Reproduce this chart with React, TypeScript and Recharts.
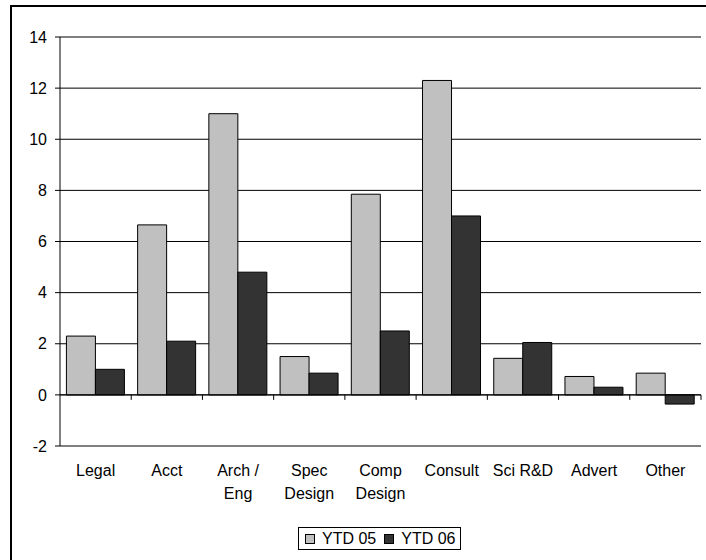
import { BarChart, Bar, XAxis, YAxis, CartesianGrid, ReferenceLine } from 'recharts';

const categories = ['Legal', 'Acct', 'Arch /\nEng', 'Spec\nDesign', 'Comp\nDesign', 'Consult', 'Sci R&D', 'Advert', 'Other'];
const ytd05 = [2.3, 6.65, 11.0, 1.5, 7.85, 12.3, 1.43, 0.72, 0.85];
const ytd06 = [1.0, 2.1, 4.8, 0.85, 2.5, 7.0, 2.05, 0.3, -0.36];
const yTicks = [-2, 0, 2, 4, 6, 8, 10, 12, 14];

const SERIES = [
  { key: 'ytd05', name: 'YTD 05', color: '#C0C0C0' },
  { key: 'ytd06', name: 'YTD 06', color: '#333333' },
];

const FONT = '"Liberation Sans", Arial, sans-serif';

const data = categories.map((name, i) => ({ name, ytd05: ytd05[i], ytd06: ytd06[i] }));

// category labels, broken on \n into stacked lines
function CategoryTick({ x, y, payload }: any) {
  const lines = String(payload.value).split('\n');
  return (
    <text x={x} y={y + 30} textAnchor="middle" fontSize={16} fontFamily={FONT} fill="#000">
      {lines.map((line, i) => (
        <tspan key={i} x={x} dy={i === 0 ? 0 : 22.7}>{line}</tspan>
      ))}
    </text>
  );
}

// zero line with small tick marks between categories
function ZeroAxis({ x1, y1, x2 }: any) {
  const step = (x2 - x1) / categories.length;
  return (
    <g>
      <line x1={x1} y1={y1} x2={x2} y2={y1} stroke="#000" strokeWidth={1} />
      {categories.map((_, i) => (
        <line key={i} x1={x1 + step * (i + 1)} y1={y1} x2={x1 + step * (i + 1)} y2={y1 + 5} stroke="#000" strokeWidth={1} />
      ))}
    </g>
  );
}

export default function App() {
  return (
    <div style={{ position: 'absolute', left: 0, top: 0, width: 706, height: 560, overflow: 'hidden', background: '#fff' }}>
      <div style={{
        position: 'absolute', left: 10, top: 5, width: 800, height: 700,
        border: '2px solid #000', boxSizing: 'border-box',
      }} />
      <div style={{ position: 'absolute', left: 0, top: 0 }}>
        <BarChart
          width={706}
          height={560}
          data={data}
          margin={{ top: 37, right: 5, bottom: 54, left: 0 }}
          barCategoryGap="9%"
          barGap={0}
        >
          <CartesianGrid vertical={false} stroke="#000" strokeDasharray="" />
          <XAxis
            dataKey="name"
            axisLine={false}
            tickLine={false}
            tickSize={0}
            tickMargin={0}
            height={60}
            interval={0}
            tick={<CategoryTick />}
          />
          <YAxis
            domain={[-2, 14]}
            ticks={yTicks}
            width={60}
            axisLine={{ stroke: '#000' }}
            tickLine={{ stroke: '#000' }}
            tickSize={5}
            tickMargin={8}
            tick={{ fontSize: 16, fontFamily: FONT, fill: '#000' }}
            allowDataOverflow
          />
          {SERIES.map(s => (
            <Bar key={s.key} dataKey={s.key} name={s.name} fill={s.color} stroke="#000" strokeWidth={1} isAnimationActive={false} />
          ))}
          <ReferenceLine y={0} shape={<ZeroAxis />} />
        </BarChart>
      </div>
      {/* legend */}
      <div style={{
        position: 'absolute', left: 298, top: 527, width: 163, height: 23,
        border: '1px solid #000', boxSizing: 'border-box',
        display: 'flex', alignItems: 'center', paddingLeft: 6,
        fontFamily: FONT, fontSize: 16, color: '#000', background: '#fff',
      }}>
        {SERIES.map((s, i) => (
          <div key={s.key} style={{ display: 'flex', alignItems: 'center', marginRight: i === 0 ? 8 : 0 }}>
            <span style={{ width: 8, height: 8, background: s.color, border: '1px solid #000', marginRight: 7, display: 'inline-block' }} />
            <span style={{ lineHeight: '20px' }}>{s.name}</span>
          </div>
        ))}
      </div>
    </div>
  );
}
